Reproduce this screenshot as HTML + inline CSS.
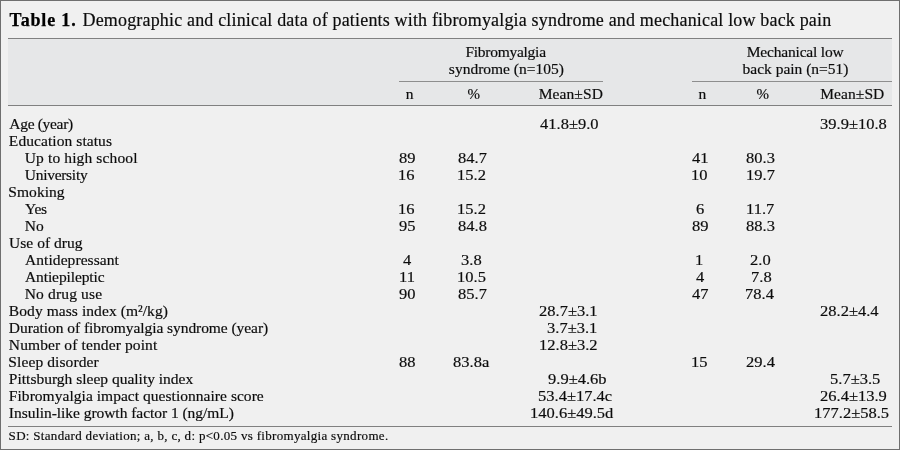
<!DOCTYPE html>
<html lang="en">
<head>
<meta charset="utf-8">
<title>Table 1</title>
<style>
html,body{margin:0;padding:0}
body{width:900px;height:450px;position:relative;overflow:hidden;background:#f0f0f0;font-family:"Liberation Serif",serif;color:#0c0c0c}
.frame{position:absolute;left:0;top:0;width:898px;height:448px;border:1px solid #6f6f6f}
.band{position:absolute;left:8px;top:38px;width:884px;height:68px;background:#e6e7e8}
.hl{position:absolute;height:1px;background:#808080}
.sl{position:absolute;height:1px;background:#8e8e8e}
.t{position:absolute;white-space:pre;line-height:20px;height:20px;font-size:15.5px;transform-origin:0 0;-webkit-text-stroke:0.18px #0c0c0c}
.b{font-weight:bold;color:#000;-webkit-text-stroke:0.25px #000}
</style>
</head>
<body>
<div class="frame"></div>
<div class="band"></div>
<div class="hl" style="left:8px;top:38px;width:884px"></div>
<div class="sl" style="left:399px;top:81px;width:204px"></div>
<div class="sl" style="left:692px;top:81px;width:200px"></div>
<div class="hl" style="left:8px;top:105px;width:884px"></div>
<div class="hl" style="left:8px;top:426px;width:884px"></div>
<div class="t b" style="left:9.50px;top:10.00px;letter-spacing:0.836px;font-size:18px">Table 1.</div>
<div class="t" style="left:82.50px;top:10.00px;letter-spacing:0.171px;font-size:18px">Demographic and clinical data of patients with fibromyalgia syndrome and mechanical low back pain</div>
<div class="t" style="left:465.40px;top:42.00px;letter-spacing:-0.262px">Fibromyalgia</div>
<div class="t" style="left:448.85px;top:59.00px">syndrome (n=105)</div>
<div class="t" style="left:746.75px;top:42.00px;letter-spacing:-0.190px">Mechanical low</div>
<div class="t" style="left:742.50px;top:59.00px">back pain (n=51)</div>
<div class="t" style="left:405.75px;top:84.00px">n</div>
<div class="t" style="left:467.50px;top:84.00px;font-size:15px">%</div>
<div class="t" style="left:538.75px;top:84.00px;letter-spacing:0.082px">Mean±SD</div>
<div class="t" style="left:698.50px;top:84.00px">n</div>
<div class="t" style="left:756.50px;top:84.00px;font-size:15px">%</div>
<div class="t" style="left:820.25px;top:84.00px;letter-spacing:0.075px">Mean±SD</div>
<div class="t" style="left:9.35px;top:114.00px;letter-spacing:-0.320px">Age (year)</div>
<div class="t" style="left:8.85px;top:131.00px;letter-spacing:0.072px">Education status</div>
<div class="t" style="left:24.75px;top:148.00px;letter-spacing:0.129px">Up to high school</div>
<div class="t" style="left:24.75px;top:165.00px;letter-spacing:-0.280px">University</div>
<div class="t" style="left:8.35px;top:182.00px;letter-spacing:0.037px">Smoking</div>
<div class="t" style="left:25.00px;top:199.00px;letter-spacing:-0.247px">Yes</div>
<div class="t" style="left:24.75px;top:216.00px;letter-spacing:0.045px">No</div>
<div class="t" style="left:9.10px;top:233.00px;letter-spacing:0.023px">Use of drug</div>
<div class="t" style="left:25.00px;top:250.00px;letter-spacing:0.069px">Antidepressant</div>
<div class="t" style="left:25.00px;top:267.00px;letter-spacing:-0.109px">Antiepileptic</div>
<div class="t" style="left:24.75px;top:284.00px;letter-spacing:0.153px">No drug use</div>
<div class="t" style="left:8.85px;top:301.00px;letter-spacing:0.072px">Body mass index (m²/kg)</div>
<div class="t" style="left:8.85px;top:318.00px;letter-spacing:-0.060px">Duration of fibromyalgia syndrome (year)</div>
<div class="t" style="left:8.85px;top:335.00px;letter-spacing:0.118px">Number of tender point</div>
<div class="t" style="left:8.35px;top:352.00px;letter-spacing:0.097px">Sleep disorder</div>
<div class="t" style="left:8.85px;top:369.00px">Pittsburgh sleep quality index</div>
<div class="t" style="left:8.85px;top:386.00px;letter-spacing:0.036px">Fibromyalgia impact questionnaire score</div>
<div class="t" style="left:8.85px;top:403.00px;letter-spacing:-0.039px">Insulin-like growth factor 1 (ng/mL)</div>
<div class="t" style="left:399.27px;top:148.00px;transform:scaleX(1.1000);font-size:15px">89</div>
<div class="t" style="left:398.35px;top:165.00px;transform:scaleX(1.1000);font-size:15px">16</div>
<div class="t" style="left:398.35px;top:199.00px;transform:scaleX(1.1000);font-size:15px">16</div>
<div class="t" style="left:399.27px;top:216.00px;transform:scaleX(1.1000);font-size:15px">95</div>
<div class="t" style="left:402.93px;top:250.00px;transform:scaleX(1.1000);font-size:15px">4</div>
<div class="t" style="left:398.98px;top:267.00px;transform:scaleX(1.1000);font-size:15px">11</div>
<div class="t" style="left:399.27px;top:284.00px;transform:scaleX(1.1000);font-size:15px">90</div>
<div class="t" style="left:399.27px;top:352.00px;transform:scaleX(1.1000);font-size:15px">88</div>
<div class="t" style="left:457.70px;top:148.00px;transform:scaleX(1.1000);font-size:15px">84.7</div>
<div class="t" style="left:456.95px;top:165.00px;transform:scaleX(1.1000);font-size:15px">15.2</div>
<div class="t" style="left:456.95px;top:199.00px;transform:scaleX(1.1000);font-size:15px">15.2</div>
<div class="t" style="left:457.80px;top:216.00px;transform:scaleX(1.1000);font-size:15px">84.8</div>
<div class="t" style="left:461.37px;top:250.00px;transform:scaleX(1.1000);font-size:15px">3.8</div>
<div class="t" style="left:457.20px;top:267.00px;transform:scaleX(1.1000);font-size:15px">10.5</div>
<div class="t" style="left:457.70px;top:284.00px;transform:scaleX(1.1000);font-size:15px">85.7</div>
<div class="t" style="left:453.45px;top:352.00px;transform:scaleX(1.1000);font-size:15px">83.8a</div>
<div class="t" style="left:539.65px;top:114.00px;transform:scaleX(1.1000);font-size:15px">41.8±9.0</div>
<div class="t" style="left:538.67px;top:301.00px;transform:scaleX(1.1000);font-size:15px">28.7±3.1</div>
<div class="t" style="left:547.20px;top:318.00px;transform:scaleX(1.1000);font-size:15px">3.7±3.1</div>
<div class="t" style="left:539.02px;top:335.00px;transform:scaleX(1.1000);font-size:15px">12.8±3.2</div>
<div class="t" style="left:547.83px;top:369.00px;transform:scaleX(1.1000);font-size:15px">9.9±4.6b</div>
<div class="t" style="left:537.50px;top:386.00px;transform:scaleX(1.1000);font-size:15px">53.4±17.4c</div>
<div class="t" style="left:530.05px;top:403.00px;transform:scaleX(1.1000);font-size:15px">140.6±49.5d</div>
<div class="t" style="left:691.95px;top:148.00px;transform:scaleX(1.1000);font-size:15px">41</div>
<div class="t" style="left:691.20px;top:165.00px;transform:scaleX(1.1000);font-size:15px">10</div>
<div class="t" style="left:696.13px;top:199.00px;transform:scaleX(1.1000);font-size:15px">6</div>
<div class="t" style="left:691.50px;top:216.00px;transform:scaleX(1.1000);font-size:15px">89</div>
<div class="t" style="left:695.48px;top:250.00px;transform:scaleX(1.1000);font-size:15px">1</div>
<div class="t" style="left:696.13px;top:267.00px;transform:scaleX(1.1000);font-size:15px">4</div>
<div class="t" style="left:691.53px;top:284.00px;transform:scaleX(1.1000);font-size:15px">47</div>
<div class="t" style="left:691.20px;top:352.00px;transform:scaleX(1.1000);font-size:15px">15</div>
<div class="t" style="left:746.15px;top:148.00px;transform:scaleX(1.1000);font-size:15px">80.3</div>
<div class="t" style="left:746.15px;top:165.00px;transform:scaleX(1.1000);font-size:15px">19.7</div>
<div class="t" style="left:745.78px;top:199.00px;transform:scaleX(1.1000);font-size:15px">11.7</div>
<div class="t" style="left:746.15px;top:216.00px;transform:scaleX(1.1000);font-size:15px">88.3</div>
<div class="t" style="left:749.90px;top:250.00px;transform:scaleX(1.1000);font-size:15px">2.0</div>
<div class="t" style="left:750.50px;top:267.00px;transform:scaleX(1.1000);font-size:15px">7.8</div>
<div class="t" style="left:745.35px;top:284.00px;transform:scaleX(1.1000);font-size:15px">78.4</div>
<div class="t" style="left:745.73px;top:352.00px;transform:scaleX(1.1000);font-size:15px">29.4</div>
<div class="t" style="left:820.38px;top:114.00px;transform:scaleX(1.1000);font-size:15px">39.9±10.8</div>
<div class="t" style="left:819.62px;top:301.00px;transform:scaleX(1.1000);font-size:15px">28.2±4.4</div>
<div class="t" style="left:829.80px;top:369.00px;transform:scaleX(1.1000);font-size:15px">5.7±3.5</div>
<div class="t" style="left:819.90px;top:386.00px;transform:scaleX(1.1000);font-size:15px">26.4±13.9</div>
<div class="t" style="left:814.02px;top:403.00px;transform:scaleX(1.1000);font-size:15px">177.2±58.5</div>
<div class="t" style="left:8.60px;top:426.00px;letter-spacing:0.312px;font-size:13px">SD: Standard deviation; a, b, c, d: p&lt;0.05 vs fibromyalgia syndrome.</div>
</body>
</html>
